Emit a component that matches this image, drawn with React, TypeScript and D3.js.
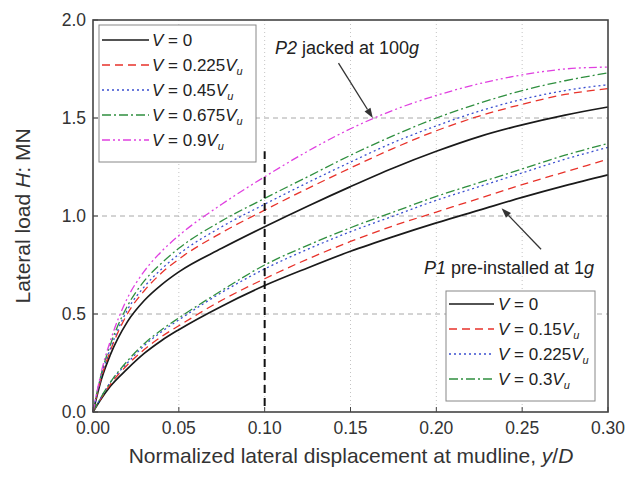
import React from 'react';
import * as d3 from 'd3';

const WIDTH = 630;
const HEIGHT = 478;
const PLOT = { left: 93, top: 20, right: 608, bottom: 412 };

// Normalized lateral displacement y/D sampled along every curve
const displacement = [0, 0.005, 0.01, 0.02, 0.03, 0.04, 0.05, 0.075, 0.1, 0.125, 0.15, 0.175, 0.2, 0.225, 0.25, 0.275, 0.3];

// P2 jacked at 100g — lateral load H (MN)
const p2V0 = [0, 0.17, 0.29, 0.46, 0.57, 0.65, 0.715, 0.835, 0.945, 1.05, 1.15, 1.245, 1.33, 1.405, 1.465, 1.515, 1.556];
const p2V0225 = [0, 0.18, 0.31, 0.5, 0.62, 0.71, 0.78, 0.915, 1.03, 1.14, 1.245, 1.345, 1.435, 1.51, 1.57, 1.62, 1.65];
const p2V045 = [0, 0.19, 0.32, 0.52, 0.64, 0.73, 0.805, 0.945, 1.06, 1.17, 1.275, 1.375, 1.46, 1.535, 1.595, 1.64, 1.67];
const p2V0675 = [0, 0.2, 0.34, 0.54, 0.67, 0.76, 0.835, 0.975, 1.09, 1.2, 1.31, 1.41, 1.5, 1.575, 1.64, 1.69, 1.73];
const p2V09 = [0, 0.21, 0.36, 0.58, 0.72, 0.82, 0.9, 1.06, 1.2, 1.33, 1.445, 1.54, 1.615, 1.675, 1.72, 1.75, 1.76];

// P1 pre-installed at 1g — lateral load H (MN)
const p1V0 = [0, 0.07, 0.13, 0.22, 0.3, 0.365, 0.42, 0.54, 0.645, 0.735, 0.82, 0.895, 0.965, 1.03, 1.095, 1.155, 1.21];
const p1V015 = [0, 0.075, 0.14, 0.24, 0.32, 0.385, 0.44, 0.57, 0.68, 0.78, 0.87, 0.95, 1.02, 1.09, 1.16, 1.225, 1.29];
const p1V0225 = [0, 0.08, 0.15, 0.25, 0.34, 0.41, 0.47, 0.61, 0.73, 0.83, 0.92, 1.0, 1.08, 1.15, 1.22, 1.29, 1.35];
const p1V03 = [0, 0.08, 0.15, 0.26, 0.35, 0.42, 0.48, 0.62, 0.75, 0.85, 0.94, 1.02, 1.1, 1.17, 1.24, 1.31, 1.37];

const xTicks = [0, 0.05, 0.1, 0.15, 0.2, 0.25, 0.3];
const yTicks = [0, 0.5, 1.0, 1.5, 2.0];

const p2Labels = ['0', '0.225', '0.45', '0.675', '0.9'];
const p1Labels = ['0', '0.15', '0.225', '0.3'];

type LineStyle = { color: string; dash: string | null; width: number };

const STYLES: LineStyle[] = [
  { color: '#1a1a1a', dash: null, width: 1.7 },
  { color: '#e8322a', dash: '8,5', width: 1.3 },
  { color: '#3a4fd0', dash: '2,3', width: 1.3 },
  { color: '#2f8f3f', dash: '9,3,2,3', width: 1.3 },
  { color: '#e040e0', dash: '8,3,2,3,2,3', width: 1.3 },
];

const p2Series = [p2V0, p2V0225, p2V045, p2V0675, p2V09];
const p1Series = [p1V0, p1V015, p1V0225, p1V03];

const FONT = '"Liberation Sans", Arial, Helvetica, sans-serif';

const x = d3.scaleLinear().domain([0, 0.3]).range([PLOT.left, PLOT.right]);
const y = d3.scaleLinear().domain([0, 2.0]).range([PLOT.bottom, PLOT.top]);

const lineGen = d3
  .line<[number, number]>()
  .x((d) => x(d[0]))
  .y((d) => y(d[1]))
  .curve(d3.curveMonotoneX);

function pathFor(values: number[]) {
  return lineGen(displacement.map((d, i) => [d, values[i]] as [number, number])) || '';
}

function Arrow({ x1, y1, x2, y2 }: { x1: number; y1: number; x2: number; y2: number }) {
  const ang = Math.atan2(y2 - y1, x2 - x1);
  const len = 10;
  const half = 3.5;
  const bx = x2 - len * Math.cos(ang);
  const by = y2 - len * Math.sin(ang);
  const px = -Math.sin(ang) * half;
  const py = Math.cos(ang) * half;
  return (
    <g>
      <line x1={x1} y1={y1} x2={bx} y2={by} stroke="#333" strokeWidth={1.3} />
      <polygon points={`${x2},${y2} ${bx + px},${by + py} ${bx - px},${by - py}`} fill="#333" />
    </g>
  );
}

function LegendLabel({ xPos, yPos, coeff }: { xPos: number; yPos: number; coeff: string }) {
  return (
    <text x={xPos} y={yPos} fontFamily={FONT} fontSize={17} fill="#222" dominantBaseline="central">
      <tspan fontStyle="italic">V</tspan>
      <tspan>{` = ${coeff}`}</tspan>
      {coeff !== '0' && (
        <>
          <tspan fontStyle="italic">V</tspan>
          <tspan fontSize={11} fontStyle="italic" dy={6}>u</tspan>
        </>
      )}
    </text>
  );
}

export default function App() {
  const legend1 = { x0: 99, y0: 25, x1: 256, y1: 162, rowY0: 40, step: 25 };
  const legend2 = { x0: 446, y0: 291, x1: 595, y1: 401, rowY0: 304, step: 25 };

  return (
    <svg
      width={WIDTH}
      height={HEIGHT}
      style={{ position: 'absolute', left: 0, top: 0, background: '#fff' }}
    >
      <rect x={0} y={0} width={WIDTH} height={HEIGHT} fill="#fff" />

      {/* grid */}
      {xTicks.slice(1, -1).map((t) => (
        <line key={`gx${t}`} x1={x(t)} x2={x(t)} y1={PLOT.top} y2={PLOT.bottom} stroke="#c4c4c4" strokeWidth={1} strokeDasharray="1,3" />
      ))}
      {yTicks.slice(1, -1).map((t) => (
        <line key={`gy${t}`} x1={PLOT.left} x2={PLOT.right} y1={y(t)} y2={y(t)} stroke="#a8a8a8" strokeWidth={1} strokeDasharray="5,4" />
      ))}

      {/* curves */}
      {p1Series.map((s, i) => (
        <path key={`p1${i}`} d={pathFor(s)} fill="none" stroke={STYLES[i].color} strokeWidth={STYLES[i].width} strokeDasharray={STYLES[i].dash || undefined} />
      ))}
      {p2Series.map((s, i) => (
        <path key={`p2${i}`} d={pathFor(s)} fill="none" stroke={STYLES[i].color} strokeWidth={STYLES[i].width} strokeDasharray={STYLES[i].dash || undefined} />
      ))}

      {/* reference displacement y/D = 0.1 */}
      <line x1={x(0.1)} x2={x(0.1)} y1={y(0.03)} y2={y(1.33)} stroke="#111" strokeWidth={2} strokeDasharray="8,5" />

      {/* legend for P2 */}
      <rect x={legend1.x0} y={legend1.y0} width={legend1.x1 - legend1.x0} height={legend1.y1 - legend1.y0} fill="#fff" stroke="#888" strokeWidth={1} />
      {p2Labels.map((lab, i) => {
        const ry = legend1.rowY0 + i * legend1.step;
        return (
          <g key={`l1${i}`}>
            <line x1={legend1.x0 + 3} x2={legend1.x0 + 50} y1={ry} y2={ry} stroke={STYLES[i].color} strokeWidth={STYLES[i].width} strokeDasharray={STYLES[i].dash || undefined} />
            <LegendLabel xPos={legend1.x0 + 53} yPos={ry} coeff={lab} />
          </g>
        );
      })}

      {/* legend for P1 */}
      <rect x={legend2.x0} y={legend2.y0} width={legend2.x1 - legend2.x0} height={legend2.y1 - legend2.y0} fill="#fff" stroke="#888" strokeWidth={1} />
      {p1Labels.map((lab, i) => {
        const ry = legend2.rowY0 + i * legend2.step;
        return (
          <g key={`l2${i}`}>
            <line x1={legend2.x0 + 3} x2={legend2.x0 + 48} y1={ry} y2={ry} stroke={STYLES[i].color} strokeWidth={STYLES[i].width} strokeDasharray={STYLES[i].dash || undefined} />
            <LegendLabel xPos={legend2.x0 + 52} yPos={ry} coeff={lab} />
          </g>
        );
      })}

      {/* annotations */}
      <text x={275} y={54} fontFamily={FONT} fontSize={18} fill="#222">
        <tspan fontStyle="italic">P2</tspan>
        <tspan> jacked at 100</tspan>
        <tspan fontStyle="italic">g</tspan>
      </text>
      <Arrow x1={x(0.143)} y1={y(1.78)} x2={x(0.163)} y2={y(1.5)} />

      <text x={424} y={274} fontFamily={FONT} fontSize={18} fill="#222">
        <tspan fontStyle="italic">P1</tspan>
        <tspan> pre-installed at 1</tspan>
        <tspan fontStyle="italic">g</tspan>
      </text>
      <Arrow x1={x(0.261)} y1={y(0.83)} x2={x(0.238)} y2={y(1.04)} />

      {/* frame */}
      <rect x={PLOT.left} y={PLOT.top} width={PLOT.right - PLOT.left} height={PLOT.bottom - PLOT.top} fill="none" stroke="#444" strokeWidth={1.6} />

      {/* ticks */}
      {xTicks.map((t) => (
        <g key={`xt${t}`}>
          <line x1={x(t)} x2={x(t)} y1={PLOT.bottom} y2={PLOT.bottom - 5} stroke="#444" strokeWidth={1} />
          <text x={x(t)} y={428} fontFamily={FONT} fontSize={17.5} fill="#333" textAnchor="middle" dominantBaseline="central">
            {d3.format('.2f')(t)}
          </text>
        </g>
      ))}
      {yTicks.map((t) => (
        <g key={`yt${t}`}>
          <line x1={PLOT.left} x2={PLOT.left + 5} y1={y(t)} y2={y(t)} stroke="#444" strokeWidth={1} />
          <text x={86} y={y(t)} fontFamily={FONT} fontSize={17.5} fill="#333" textAnchor="end" dominantBaseline="central">
            {d3.format('.1f')(t)}
          </text>
        </g>
      ))}

      {/* axis titles */}
      <text x={351} y={463} fontFamily={FONT} fontSize={21} fill="#333" textAnchor="middle">
        <tspan>Normalized lateral displacement at mudline, </tspan>
        <tspan fontStyle="italic">y</tspan>
        <tspan>/</tspan>
        <tspan fontStyle="italic">D</tspan>
      </text>
      <text transform={`translate(30,${(PLOT.top + PLOT.bottom) / 2}) rotate(-90)`} fontFamily={FONT} fontSize={21} fill="#333" textAnchor="middle">
        <tspan>Lateral load </tspan>
        <tspan fontStyle="italic">H</tspan>
        <tspan>: MN</tspan>
      </text>
    </svg>
  );
}
